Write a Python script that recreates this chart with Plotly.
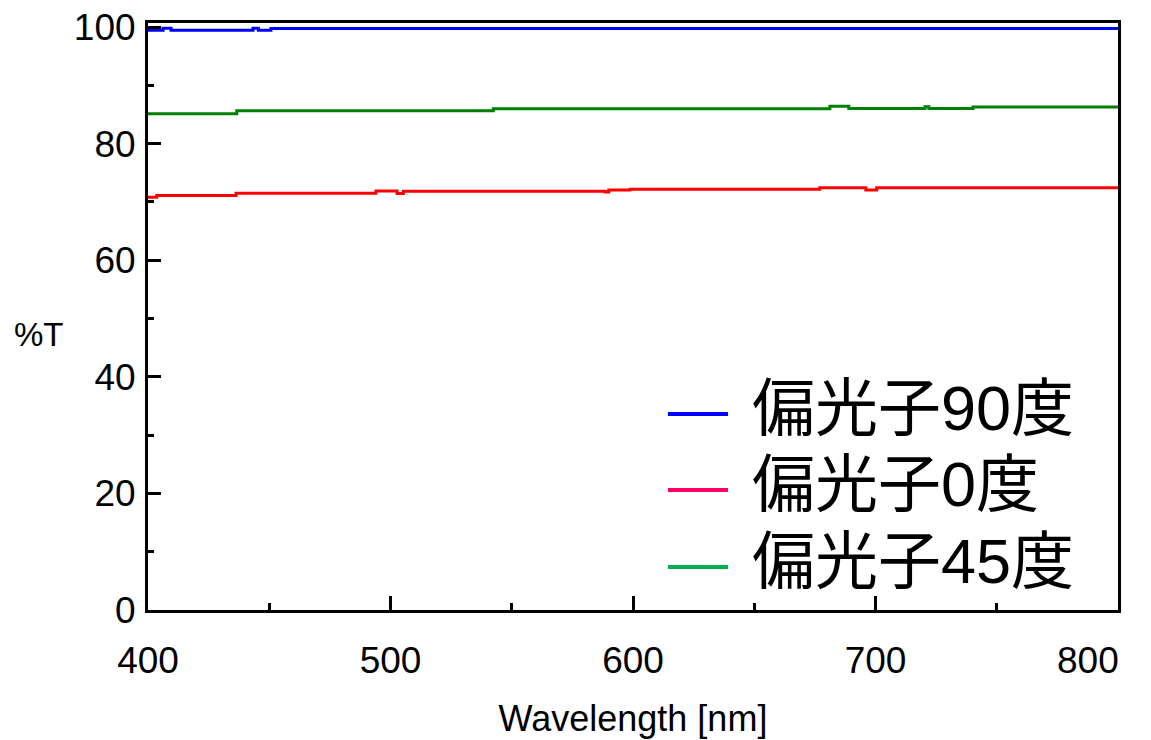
import plotly.graph_objects as go

# ---- data ----
names = ["偏光子90度", "偏光子0度", "偏光子45度"]

wl_90 = [400, 406.2, 409.5, 443.3, 445.5, 450.7, 800]
t_90 = [99.45, 99.8, 99.45, 99.8, 99.45, 99.75, 99.75]

wl_0 = [400, 403.6, 436.3, 494.0, 502.7, 505.3, 588.5, 590.0, 598.8, 677.0, 696.0, 700.5, 800]
t_0 = [70.8, 71.1, 71.5, 71.9, 71.45, 71.85, 71.7, 72.05, 72.2, 72.45, 72.05, 72.45, 72.45]

wl_45 = [400, 436.6, 542.4, 681.2, 689.0, 720.4, 722.0, 740.2, 800]
t_45 = [85.15, 85.65, 86.0, 86.4, 86.05, 86.35, 86.05, 86.3, 86.3]

line_colors = ["#0000FF", "#FF0000", "#008000"]
legend_colors = ["#0000FF", "#FF0066", "#00B050"]

x_ticks = [400, 500, 600, 700, 800]
y_ticks = [0, 20, 40, 60, 80, 100]

# ---- figure ----
fig = go.Figure()
for wl, t, name, c in zip([wl_90, wl_0, wl_45], [t_90, t_0, t_45], names, line_colors):
    fig.add_trace(go.Scatter(x=wl, y=t, mode="lines", name=name,
                             line=dict(color=c, width=3, shape="hv"),
                             showlegend=False))

font_main = "Liberation Sans, Arial, sans-serif"

# page body has an 8px margin, so the figure is sized to fit the window
fig.update_layout(
    width=1143, height=732,
    margin=dict(l=140, r=33, t=15, b=130, autoexpand=False),
    paper_bgcolor="white", plot_bgcolor="white",
    font=dict(family=font_main, color="black"),
    showlegend=False,
)

fig.update_xaxes(
    range=[400, 800], tickvals=x_ticks[:-1], ticktext=[str(v) for v in x_ticks[:-1]],
    ticks="inside", ticklen=14, tickwidth=2.5, tickcolor="black",
    minor=dict(dtick=50, ticks="inside", ticklen=7, tickwidth=2.5, tickcolor="black"),
    showline=True, linecolor="black", linewidth=3, mirror=True,
    showgrid=False, zeroline=False, automargin=False,
    tickfont=dict(size=37, family=font_main),
    ticklabelstandoff=16, ticklabeloverflow="allow",
    title=dict(text="Wavelength [nm]", font=dict(size=36, family=font_main), standoff=26),
)
fig.update_yaxes(
    range=[0, 100.7], tickvals=y_ticks,
    ticks="inside", ticklen=13, tickwidth=2.5, tickcolor="black",
    minor=dict(dtick=10, ticks="inside", ticklen=6, tickwidth=2.5, tickcolor="black"),
    showline=True, linecolor="black", linewidth=3, mirror=True,
    showgrid=False, zeroline=False, automargin=False,
    tickfont=dict(size=37, family=font_main),
    ticklabelstandoff=2, ticklabeloverflow="allow",
)

# last x tick label kept inside the picture, as in the reference
fig.add_annotation(x=x_ticks[-1], y=0, xref="x", yref="y", text=str(x_ticks[-1]),
                   showarrow=False, xanchor="right", yanchor="top", xshift=3, yshift=-28,
                   font=dict(size=37, family=font_main))

# y axis title (horizontal)
fig.add_annotation(x=-0.1402, y=0.47, xref="paper", yref="paper", text="%T",
                   showarrow=False, xanchor="left", yanchor="middle",
                   font=dict(size=33, family=font_main))

# legend drawn in the lower right
leg_y = [0.3339, 0.2044, 0.0733]
for name, c, yy in zip(names, legend_colors, leg_y):
    fig.add_shape(type="line", xref="paper", yref="paper", x0=0.536, x1=0.598, y0=yy, y1=yy,
                  line=dict(color=c, width=4))
    fig.add_annotation(x=0.6206, y=yy, xref="paper", yref="paper", text=name,
                       showarrow=False, xanchor="left", yanchor="middle", yshift=6,
                       font=dict(size=63, family="Liberation Sans, Noto Sans CJK JP", color="black"))

fig.write_html("out.html")
